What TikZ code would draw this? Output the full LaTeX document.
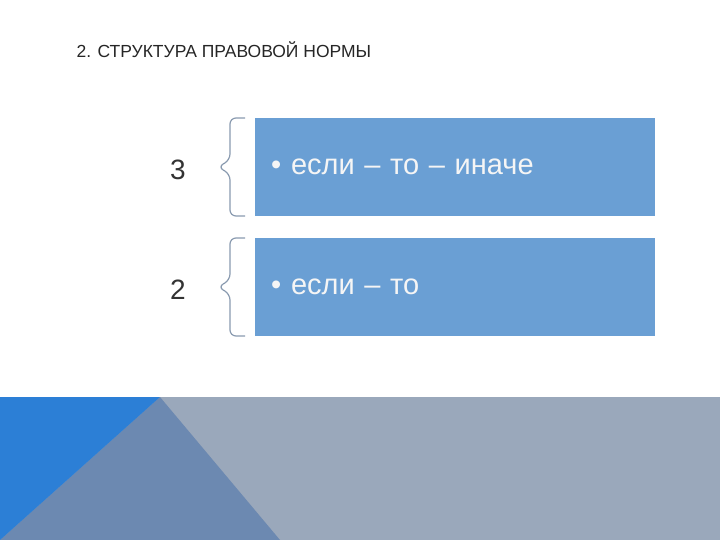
\documentclass[tikz,border=0pt]{standalone}
\usepackage{fontspec}
\setmainfont{Liberation Sans}
\definecolor{boxblue}{HTML}{6A9FD4}
\definecolor{bandgray}{HTML}{9AA8BB}
\definecolor{brightblue}{HTML}{2C7FD6}
\definecolor{steel}{HTML}{6C89B1}
\definecolor{bracegray}{HTML}{8A9BB0}
\begin{document}
\begin{tikzpicture}[x=1pt,y=-1pt,
  item/.style={fill=boxblue,minimum width=400pt,minimum height=98pt,anchor=north west,inner sep=0pt,text=white!92!gray,font=\fontsize{29}{32}\selectfont,align=left,text width=380pt},
  num/.style={font=\fontsize{28}{30}\selectfont,text=black!80},
  brace/.style={draw=bracegray,line width=1.2pt,rounded corners=6pt}]
\useasboundingbox (0,0) rectangle (720,540);
\fill[white] (0,0) rectangle (720,540);
\node[anchor=west,font=\fontsize{17.5}{20}\selectfont,text=black!85] (title) at (73,50) {2. СТРУКТУРА ПРАВОВОЙ НОРМЫ};
\node[item] (b1) at (255,118) {\hspace*{6pt}• если – то – иначе};
\node[item] (b2) at (255,238) {\hspace*{6pt}• если – то};
\node[num] (n1) at (178,170) {3};
\node[num] (n2) at (178,290) {2};
\draw[brace] (245,118) -- (230,118) -- (230,160) -- (218,167) -- (230,174) -- (230,216) -- (245,216);
\draw[brace] (245,238) -- (230,238) -- (230,280) -- (218,287) -- (230,294) -- (230,336) -- (245,336);
\fill[bandgray] (0,397) rectangle (720,540);
\fill[steel] (160,397) -- (280,540) -- (0,540) -- cycle;
\fill[brightblue] (0,397) -- (160,397) -- (0,540) -- cycle;
\end{tikzpicture}
\end{document}
